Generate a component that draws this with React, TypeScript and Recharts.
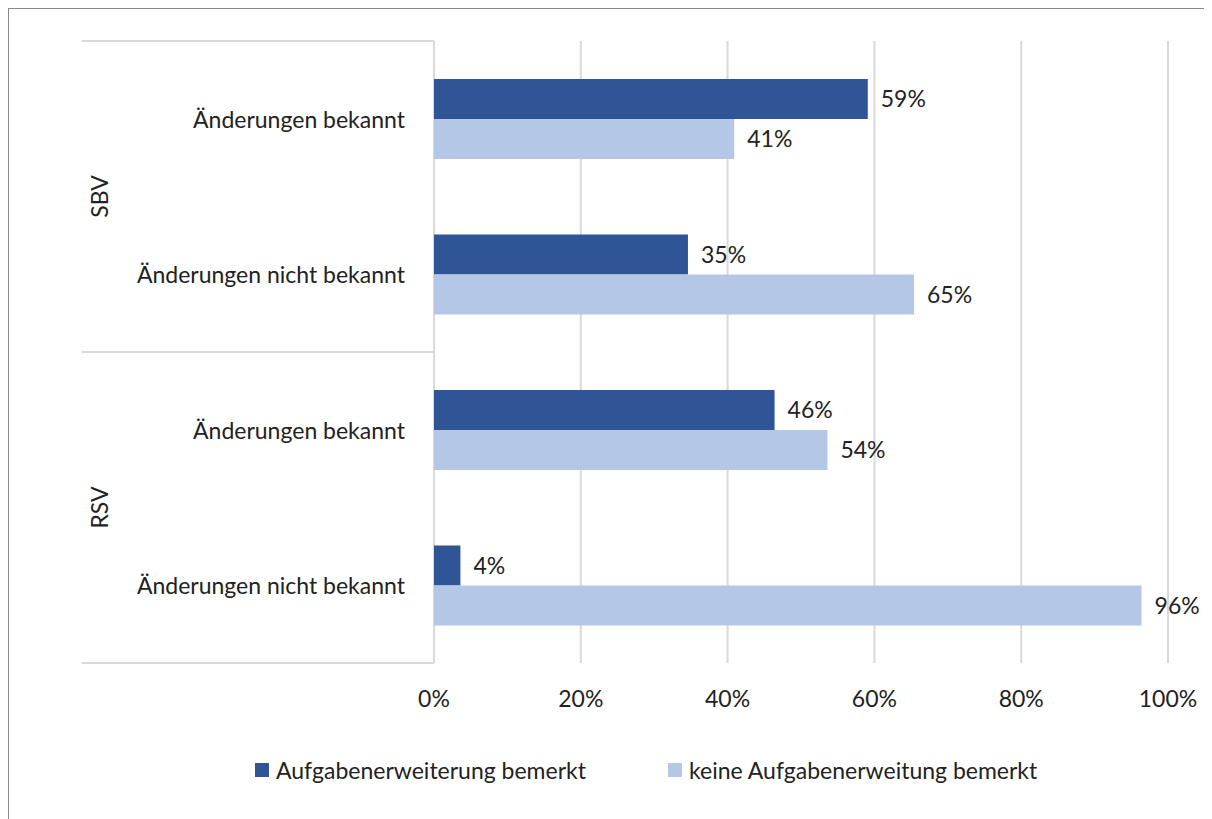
import { BarChart, Bar, XAxis, YAxis, CartesianGrid, Legend, LabelList } from 'recharts';

const groups = ['SBV', 'SBV', 'RSV', 'RSV'];
const categories = ['Änderungen bekannt', 'Änderungen nicht bekannt', 'Änderungen bekannt', 'Änderungen nicht bekannt'];
const bemerkt = [59.1, 34.6, 46.4, 3.6];
const keineBemerkt = [40.9, 65.4, 53.6, 96.4];
const xTicks = [0, 20, 40, 60, 80, 100];

const seriesNames = {
  bemerkt: 'Aufgabenerweiterung bemerkt',
  keine: 'keine Aufgabenerweitung bemerkt',
};

const DARK = '#2f5597';
const LIGHT = '#b4c7e7';
const GRID = '#d9d9d9';
const TEXT = '#222222';
const FONT = 'Lato, "Open Sans", sans-serif';
const FS = 23;

const data = categories.map((c, i) => ({
  key: `${groups[i]}-${i}`,
  name: c,
  group: groups[i],
  bemerkt: bemerkt[i],
  keine: keineBemerkt[i],
}));

const CategoryTick = (props: any) => {
  const { x, y, payload, index } = props;
  const half = payload.offset || 77.6;
  const row = data[index];
  const isFirst = index === 0 || data[index - 1].group !== row.group;
  const isLast = index === data.length - 1 || data[index + 1].group !== row.group;
  const groupSize = data.filter((d) => d.group === row.group).length;
  const axisRight = x + 8;
  const lineLeft = 73;
  const gy = y - half + half * groupSize;
  return (
    <g>
      <text x={x - 21} y={y} textAnchor="end" dominantBaseline="central" fontSize={FS} fill={TEXT} fontFamily={FONT}>
        {row.name}
      </text>
      {isFirst && (
        <>
          <line x1={lineLeft} x2={axisRight} y1={y - half} y2={y - half} stroke={GRID} strokeWidth={2} />
          <text
            x={90}
            y={gy}
            textAnchor="middle"
            dominantBaseline="central"
            fontSize={FS}
            fill={TEXT}
            fontFamily={FONT}
            transform={`rotate(-90 90 ${gy})`}
          >
            {row.group}
          </text>
        </>
      )}
      {isLast && <line x1={lineLeft} x2={axisRight} y1={y + half} y2={y + half} stroke={GRID} strokeWidth={2} />}
    </g>
  );
};

const PercentTick = (props: any) => {
  const { x, y, payload } = props;
  return (
    <text x={x} y={y + 27} textAnchor="middle" dominantBaseline="central" fontSize={FS} fill={TEXT} fontFamily={FONT}>
      {`${payload.value}%`}
    </text>
  );
};

const LegendContent = () => (
  <div style={{ display: 'flex', alignItems: 'center', fontFamily: FONT, fontSize: FS, color: TEXT, paddingLeft: 246, lineHeight: '24px' }}>
    <span style={{ width: 14, height: 14, background: DARK, display: 'inline-block', marginRight: 7 }} />
    <span style={{ marginRight: 82 }}>{seriesNames.bemerkt}</span>
    <span style={{ width: 14, height: 14, background: LIGHT, display: 'inline-block', marginRight: 7 }} />
    <span>{seriesNames.keine}</span>
  </div>
);

export default function App() {
  return (
    <div
      style={{
        marginLeft: -1,
        marginTop: -1,
        width: 1205,
        height: 813,
        borderTop: '2px solid #8a8a8a',
        borderLeft: '2px solid #8a8a8a',
        background: '#fff',
        boxSizing: 'border-box',
      }}
    >
      <BarChart
        width={1203}
        height={811}
        data={data}
        layout="vertical"
        margin={{ top: 32, right: 44, bottom: 73, left: 0 }}
        barSize={40}
        barGap={0}
      >
        <CartesianGrid horizontal={false} stroke={GRID} strokeWidth={2} />
        <XAxis
          type="number"
          domain={[0, 100]}
          ticks={xTicks}
          axisLine={false}
          tickLine={false}
          height={60}
          tick={<PercentTick />}
          interval={0}
        />
        <YAxis
          type="category"
          dataKey="key"
          width={425}
          axisLine={false}
          tickLine={false}
          tick={<CategoryTick />}
          interval={0}
        />
        <Legend content={<LegendContent />} wrapperStyle={{ top: 749, left: 0, width: 1203, height: 24 }} />
        <Bar dataKey="bemerkt" name={seriesNames.bemerkt} fill={DARK} isAnimationActive={false}>
          <LabelList
            dataKey="bemerkt"
            position="right"
            offset={13}
            formatter={(v: any) => `${Math.round(v)}%`}
            style={{ fontSize: FS, fill: TEXT, fontFamily: FONT }}
          />
        </Bar>
        <Bar dataKey="keine" name={seriesNames.keine} fill={LIGHT} isAnimationActive={false}>
          <LabelList
            dataKey="keine"
            position="right"
            offset={13}
            formatter={(v: any) => `${Math.round(v)}%`}
            style={{ fontSize: FS, fill: TEXT, fontFamily: FONT }}
          />
        </Bar>
      </BarChart>
    </div>
  );
}
